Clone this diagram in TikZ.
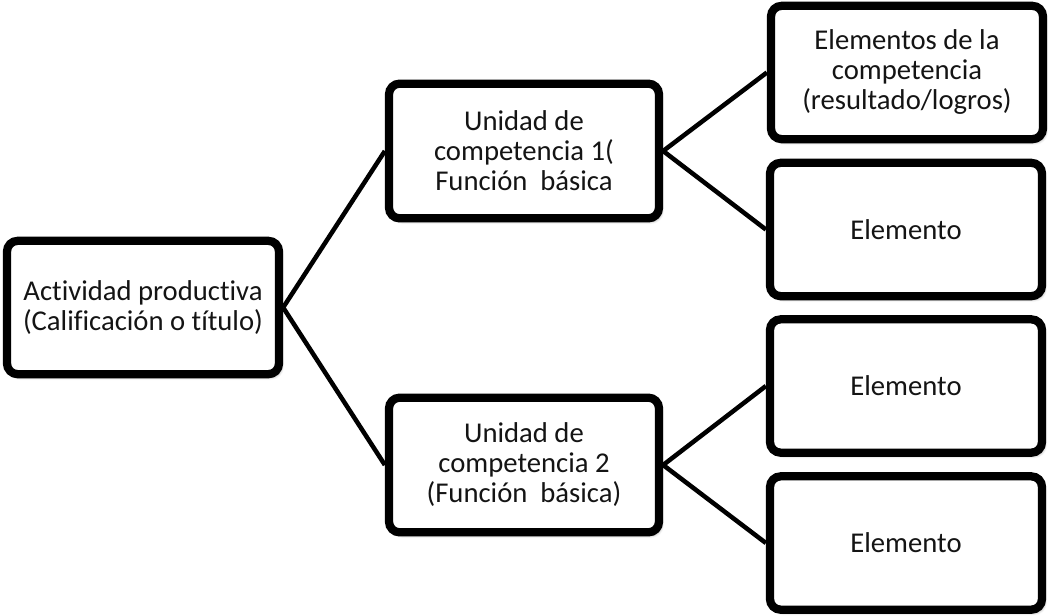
\documentclass[tikz,border=0pt]{standalone}
\usepackage{fontspec}
\setmainfont{Carlito}[Ligatures=NoCommon]
\usetikzlibrary{shadows.blur}
\begin{document}
\begin{tikzpicture}[x=0.75pt,y=-0.75pt,
  box/.style={draw=black, line width=6.2pt, rounded corners=8pt, fill=white,
    align=center, inner sep=0pt, text=black!92,
    blur shadow={shadow xshift=2pt, shadow yshift=-2.5pt, shadow blur steps=6, shadow opacity=35},
    font=\fontsize{21.5}{22.5}\selectfont},
  wide/.style={box, minimum width=204pt, minimum height=100pt},
  unit/.style={box, minimum width=202.5pt, minimum height=101pt},
  link/.style={draw=black, line width=3.4pt}]
  \useasboundingbox (0,0) rectangle (1049,615);
  % box centres, in pixels from the top left corner
  \coordinate (rc) at (143,307.5);
  \coordinate (u1c) at (524,151);
  \coordinate (u2c) at (524,465);
  \coordinate (e1c) at (907,72.5);
  \coordinate (e2c) at (906,229.5);
  \coordinate (e3c) at (906,386);
  \coordinate (e4c) at (906,543);
  \node[wide] (root) at (rc) {Actividad productiva\\(Calificación o título)};
  \node[unit] (u1) at (u1c) {Unidad de\\competencia 1(\\Función~ básica};
  \node[unit] (u2) at (u2c) {Unidad de\\competencia 2\\(Función~ básica)};
  \node[wide] (e1) at (e1c) {Elementos de la\\competencia\\(resultado/logros)};
  \node[wide] (e2) at (e2c) {Elemento};
  \node[wide] (e3) at (e3c) {Elemento};
  \node[wide] (e4) at (e4c) {Elemento};
  % tree connectors
  \draw[link] (root.east) -- (u1.west);
  \draw[link] (root.east) -- (u2.west);
  \draw[link] (u1.east) -- (e1.west);
  \draw[link] (u1.east) -- (e2.west);
  \draw[link] (u2.east) -- (e3.west);
  \draw[link] (u2.east) -- (e4.west);
\end{tikzpicture}
\end{document}
